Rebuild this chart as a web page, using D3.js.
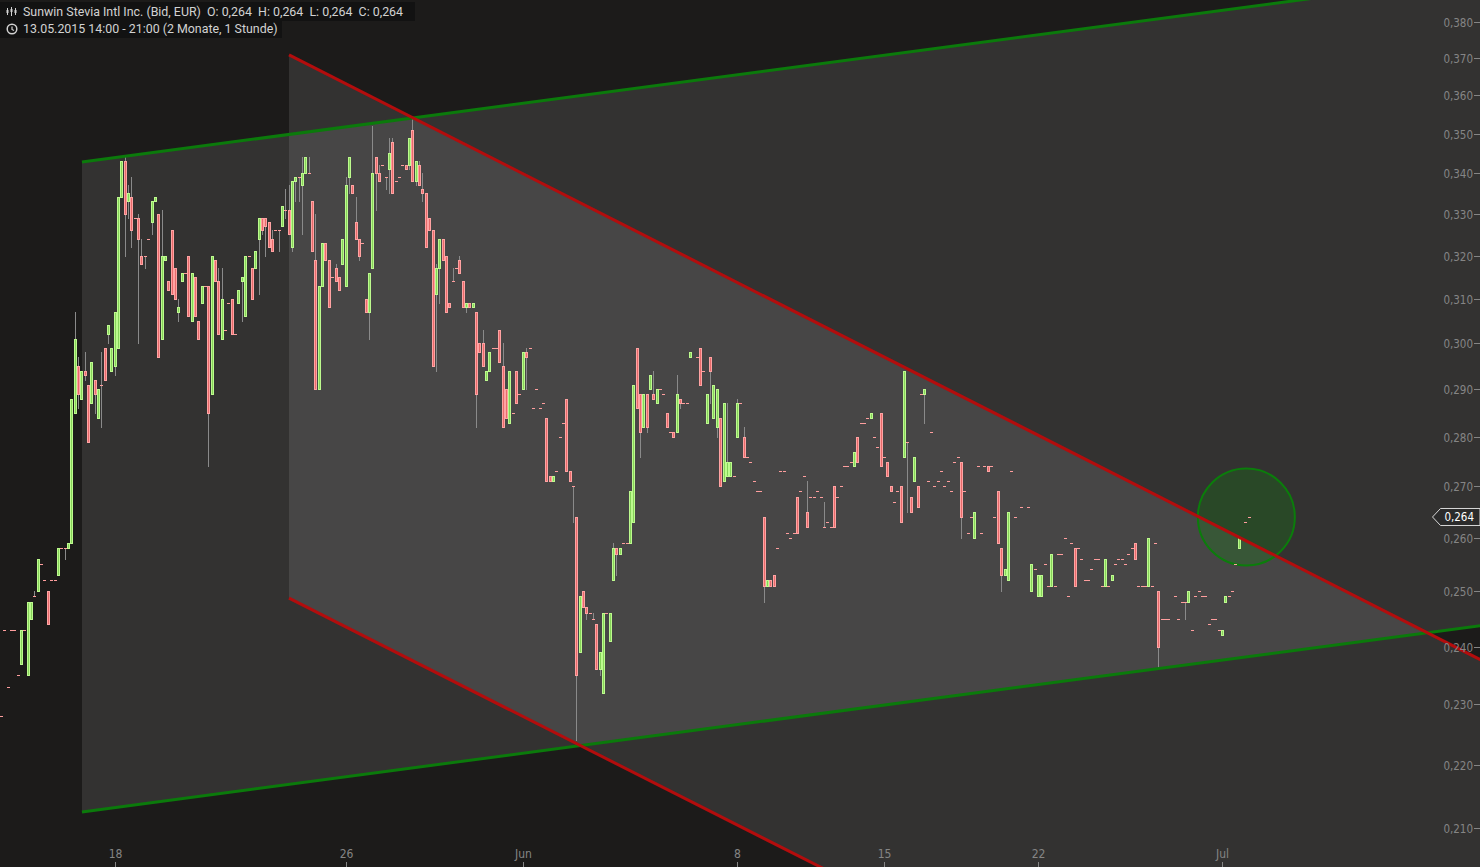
<!DOCTYPE html>
<html><head><meta charset="utf-8">
<script src="https://cdn.jsdelivr.net/npm/d3@7"></script>
<style>html,body{margin:0;padding:0;background:#1c1b1a;overflow:hidden}</style>
</head><body><svg id="c" width="1480" height="867"></svg>
<script>
// ---------------- data ----------------
const titleText = "Sunwin Stevia Intl Inc. (Bid, EUR)";
const ohlcText = "O: 0,264  H: 0,264  L: 0,264  C: 0,264";
const periodText = "13.05.2015 14:00 - 21:00 (2 Monate, 1 Stunde)";
const xTickSlots = [34, 103, 156, 220, 264, 310, 365];
const xTickLabels = ["18", "26", "Jun", "8", "15", "22", "Jul"];
const yTickValues = [0.21,0.22,0.23,0.24,0.25,0.26,0.27,0.28,0.29,0.30,0.31,0.32,0.33,0.34,0.35,0.36,0.37,0.38];
const lastPrice = 0.264;
const priceUnit = 0.001; // bar values below are in 1/1000 EUR, one entry per hourly slot
const open = [
228,243,233,243,243,235,237,243,235,245, 249,250,255,252,250,252,252,253,258,258,
258,259,285,295,288,294,291,287,292,284, 291,299,302,294,295,299,334,343,333,334,
329,329,320,320,324,328,333,330,301,319, 314,326,317,307,314,316,320,305,315,305,
309,313,313,289,319,314,301,303,309,310, 302,309,314,306,320,317,317,324,329,329,
328,324,326,326,327,331,331,322,338,339, 337,340,340,333,319,290,313,323,319,315,
317,315,318,313,339,337,328,324,323,310, 307,317,344,340,342,339,341,348,338,339,
342,342,342,351,338,342,336,335,329,326, 311,317,324,320,309,314,317,319,314,308,
309,308,307,300,300,292,294,299,299,303, 295,290,283,285,294,289,290,298,299,286,
290,286,287,284,272,271,273,280,283,288, 273,270,264,239,250,247,246,245,244,236,
232,246,241,252,258,257,259,259,259,263, 299,289,282,289,290,289,287,290,289,285,
281,281,281,288,287,287,297,null,297,299, 294,283,297,284,282,284,271,272,272,272,
280,287,280,276,275,271,269,269,264,251, 252,253,258,273,273,261,260,261,268,269,
272,265,268,268,269,268,262,263,262,270, 268,270,274,274,275,274,280,283,283,284,
284,280,278,285,276,275,270,267,269,270, 276,279,268,271,270,289,289,271,281,270,
271,273,270,271,269,275,276,275,269,261, 264,260,274,261,274,274,274,264,269,258,
253,252,273,264,null,266,null,266,250,254, 249,249,255,251,251,251,257,257,260,249,
259,258,258,256,252,252,254,256,256,251, 251,251,252,255,256,256,255,257,258,259,
251,251,251,251,251,259,250,245,245,245, null,249,245,248,248,248,243,249,250,249,
249,244,245,245,243,242,248,249,250,255, 258,null,263,264];
const close = [
228,243,233,243,243,235,243,243,248,248, 249,256,255,252,244,252,252,258,258,258,
259,288,301,289,294,293,279,296,289,290, 291,292,304,299,307,334,343,330,335,326,
329,324,318,320,324,333,334,297,320,320, 312,311,310,308,316,316,306,316,306,301,
313,313,285,320,314,302,310,303,309,302, 302,312,315,320,320,310,321,329,326,327,
322,321,326,326,332,331,325,338,339,339, 340,344,340,321,290,313,323,319,308,315,
314,312,324,337,344,335,324,320,323,307, 316,340,340,338,342,339,345,335,338,339,
342,341,349,338,343,337,335,322,326,295, 317,324,319,307,308,314,317,316,308,309,
308,309,289,298,295,294,298,299,299,296, 282,284,294,285,287,289,298,297,299,286,
290,286,287,271,271,272,273,280,283,273, 271,270,235,249,247,246,246,245,236,239,
246,246,246,258,257,258,259,259,269,291, 286,281,289,282,293,288,290,290,289,282,
281,280,289,287,287,287,298,null,297,291, 294,289,294,291,290,270,287,275,275,272,
287,287,276,276,275,271,269,269,251,252, 251,251,258,273,273,261,260,261,261,269,
272,262,268,268,269,268,262,263,262,262, 268,270,274,274,275,277,275,283,283,284,
285,280,278,274,276,272,269,267,269,263, 294,279,265,276,266,289,290,271,281,270,
271,273,270,271,269,275,276,264,269,261, 264,265,274,261,274,273,274,264,259,253,
254,265,273,264,null,266,null,266,255,254, 253,253,255,251,257,251,257,257,260,249,
259,251,258,256,252,252,254,256,256,251, 256,251,253,255,256,256,255,257,258,256,
251,251,251,260,251,259,240,245,245,245, null,249,245,248,248,250,243,249,250,249,
249,244,245,245,243,243,249,249,250,255, 260,null,263,264];
const high = [
228,243,233,243,243,235,243,243,248,248, 250,256,255,252,250,252,252,258,258,258,
259,288,307,297,294,298,291,296,292,290, 298,299,304,299,307,334,343,344,337,339,
329,330,324,320,324,333,334,330,331,320, 314,326,317,310,316,316,320,316,315,305,
313,313,313,320,319,317,317,303,309,310, 302,312,315,320,320,317,321,329,329,329,
328,326,326,326,332,336,337,338,339,339, 344,344,344,333,330,313,323,323,319,315,
318,315,324,339,344,337,334,324,323,310, 316,352,344,342,342,339,349,349,338,339,
342,342,349,354,343,343,340,335,329,326, 318,324,324,320,309,317,317,320,314,309,
309,309,307,300,303,294,298,299,299,303, 300,290,294,285,294,289,298,299,299,286,
290,286,287,284,272,272,273,280,283,288, 273,270,264,249,250,247,246,246,244,239,
246,246,246,259,258,258,259,259,269,291, 299,289,289,289,293,294,290,290,289,285,
281,281,293,288,287,287,298,null,297,299, 294,289,297,291,290,284,287,287,275,272,
288,287,282,276,275,271,269,269,264,252, 252,253,258,273,273,261,260,261,268,269,
272,271,268,268,269,268,267,263,262,270, 268,270,274,274,275,277,280,283,283,284,
285,280,278,285,276,275,270,267,269,270, 294,279,268,276,270,289,290,271,281,270,
271,273,270,271,269,275,276,275,269,261, 264,265,274,261,274,274,274,264,269,258,
254,265,273,264,null,266,null,266,255,254, 253,253,255,251,257,251,257,257,260,249,
259,258,258,256,252,252,254,256,256,251, 256,251,253,255,256,256,255,257,258,259,
251,251,251,260,251,259,250,245,245,245, null,249,245,248,248,250,243,249,250,249,
249,244,245,245,243,243,249,249,250,255, 260,null,263,264];
const low = [
228,243,233,243,243,235,237,243,235,245, 249,250,255,252,244,252,252,253,258,256,
258,259,285,286,288,292,279,287,285,284, 282,292,300,294,293,299,334,320,329,322,
329,300,318,317,324,325,333,297,301,319, 312,311,310,305,314,316,306,305,306,301,
309,313,274,289,314,302,301,303,309,302, 302,309,305,306,320,310,317,311,325,320,
322,321,326,321,327,329,325,321,333,333, 325,340,340,321,290,290,313,319,308,315,
314,312,318,313,335,335,324,319,323,307, 301,317,331,338,342,336,335,335,338,339,
342,341,341,338,337,337,333,322,326,295, 294,309,319,307,308,314,317,316,308,307,
308,308,282,298,295,292,294,299,299,296, 282,284,283,285,287,289,290,290,299,286,
290,286,287,271,271,271,273,280,283,273, 271,263,224,239,247,245,246,245,236,235,
232,246,241,252,253,257,259,259,259,263, 286,276,282,281,290,288,287,290,289,282,
281,280,281,286,287,287,297,null,297,291, 294,283,287,284,280,270,271,272,272,272,
280,287,276,276,275,271,269,269,248,251, 251,251,258,273,273,261,260,261,261,269,
272,262,268,268,269,268,262,263,262,262, 268,270,274,274,275,274,275,283,283,284,
284,280,278,274,276,272,269,267,269,263, 276,265,265,271,266,289,283,271,281,270,
271,273,270,271,269,275,276,260,269,261, 264,260,274,261,274,273,274,264,259,250,
253,252,273,264,null,266,null,266,250,254, 249,249,255,251,251,251,257,257,260,249,
259,251,258,256,252,252,254,256,256,251, 251,251,252,255,256,256,255,257,258,256,
251,251,251,251,251,259,236,245,245,245, null,249,245,248,245,248,243,249,250,249,
249,244,245,245,243,242,248,249,250,255, 258,null,263,264];
// trend channel anchors: [slot, price]
const greenUpper = [[24.2, 0.3428], [388.3, 0.3862]];
const greenLower = [[24.2, 0.2125], [442.2, 0.2437]];
const redUpper   = [[86.1, 0.3709], [442.2, 0.2377]];
const redLower   = [[86.1, 0.2487], [244.8, 0.2041]];
const marker = [372.3, 0.264];

// ---------------- drawing ----------------
const W = 1480, H = 867;
const svg = d3.select("#c");
const x = d3.scaleLinear().domain([0, 373]).range([1, 1 + 3.345 * 373]);
const y = d3.scaleLog().domain([0.21, 0.38]).range([828, 22]);

svg.append("rect").attr("width", W).attr("height", H).attr("fill", "#1c1b1a");
svg.append("clipPath").attr("id", "clip").append("rect").attr("width", W).attr("height", H);
const plot = svg.append("g").attr("clip-path", "url(#clip)");

function px(pt) { return [x(pt[0]), y(pt[1])]; }
function extend(line, xEnd) {
  const a = px(line[0]), b = px(line[1]);
  const k = (b[1] - a[1]) / (b[0] - a[0]);
  return [a, [xEnd, a[1] + k * (xEnd - a[0])]];
}
const XE = 1520;
const gU = extend(greenUpper, XE), gL = extend(greenLower, XE);
const rU = extend(redUpper, XE), rL = extend(redLower, XE);

const fillPoly = (u, l) => [u[0], u[1], l[1], l[0]];
plot.selectAll("polygon.ch").data([fillPoly(gU, gL), fillPoly(rU, rL)]).join("polygon")
  .attr("class", "ch")
  .attr("points", d => d.map(p => p.join(",")).join(" "))
  .attr("fill", "#ffffff").attr("fill-opacity", 0.1);

// marker circle
plot.append("circle").attr("cx", x(marker[0])).attr("cy", y(marker[1])).attr("r", 48.5)
  .attr("fill", "#0a8a0a").attr("fill-opacity", 0.25)
  .attr("stroke", "#0b7d0b").attr("stroke-width", 2);

// candles
const bars = open.map((o, i) => ({i, o, h: high[i], l: low[i], c: close[i]})).filter(d => d.o != null);
const cg = plot.append("g");
bars.forEach(d => {
  const o = d.o * priceUnit, c = d.c * priceUnit, h = d.h * priceUnit, l = d.l * priceUnit;
  const cx = Math.round(x(d.i));
  const top = Math.max(o, c), bot = Math.min(o, c);
  if (h > top || l < bot) {
    cg.append("line").attr("x1", cx + 0.5).attr("x2", cx + 0.5)
      .attr("y1", Math.round(y(h))).attr("y2", Math.round(y(l)) + 1)
      .attr("stroke", "#8a8a8a").attr("stroke-width", 1);
  }
  if (o === c) {
    cg.append("rect").attr("x", cx - 1).attr("y", Math.round(y(o))).attr("width", 3).attr("height", 1)
      .attr("fill", "#ff9e9e");
  } else {
    const up = c > o;
    const y0 = Math.round(y(top)), y1 = Math.round(y(bot));
    const hgt = Math.max(2, y1 - y0 + 1);
    cg.append("rect").attr("x", cx - 1).attr("y", y0).attr("width", 3).attr("height", hgt)
      .attr("fill", up ? "#bdfa8e" : "#ffa3a3");
    if (hgt > 2) {
      cg.append("rect").attr("x", cx).attr("y", y0 + 1).attr("width", 1).attr("height", hgt - 2)
        .attr("fill", up ? "#86d35a" : "#e86b6b");
    }
  }
});

// channel lines
const lines = [[gU, "#0b7a0b"], [gL, "#0b7a0b"], [rU, "#b30d0d"], [rL, "#b30d0d"]];
plot.selectAll("line.tl").data(lines).join("line").attr("class", "tl")
  .attr("x1", d => d[0][0][0]).attr("y1", d => d[0][0][1])
  .attr("x2", d => d[0][1][0]).attr("y2", d => d[0][1][1])
  .attr("stroke", d => d[1]).attr("stroke-width", 3);

// y axis (right)
const fmt = v => d3.format(".3f")(v).replace(".", ",");
const ya = svg.append("g");
yTickValues.forEach(v => {
  const yy = Math.round(y(v)) + 0.5;
  ya.append("line").attr("x1", 1474).attr("x2", 1480).attr("y1", yy).attr("y2", yy)
    .attr("stroke", "#858585").attr("stroke-width", 1);
  ya.append("text").attr("x", 1473).attr("y", yy).attr("dy", "0.35em").attr("text-anchor", "end")
    .attr("font-family", "'DejaVu Sans Condensed','DejaVu Sans',sans-serif").attr("font-stretch", "condensed")
    .attr("font-size", 11.5).attr("fill", "#858585").text(fmt(v));
});
// last price tag
const ly = y(lastPrice);
ya.append("polygon")
  .attr("points", [[1432.5, ly], [1440.5, ly - 8.5], [1480, ly - 8.5], [1480, ly + 8.5], [1440.5, ly + 8.5]].map(p => p.join(",")).join(" "))
  .attr("fill", "#2b2b2b").attr("stroke", "#d8d8d8").attr("stroke-width", 1);
ya.append("text").attr("x", 1474).attr("y", ly).attr("dy", "0.36em").attr("text-anchor", "end")
  .attr("font-family", "'DejaVu Sans Condensed','DejaVu Sans',sans-serif").attr("font-stretch", "condensed")
  .attr("font-size", 11.5).attr("fill", "#ffffff").text(fmt(lastPrice));

// x axis
const xa = svg.append("g");
xTickSlots.forEach((s, k) => {
  const xx = Math.round(x(s)) + 0.5;
  xa.append("line").attr("x1", xx).attr("x2", xx).attr("y1", 862).attr("y2", 867)
    .attr("stroke", "#858585").attr("stroke-width", 1);
  xa.append("text").attr("x", xx).attr("y", 858).attr("text-anchor", "middle")
    .attr("font-family", "'DejaVu Sans Condensed','DejaVu Sans',sans-serif").attr("font-stretch", "condensed")
    .attr("font-size", 12).attr("fill", "#858585").text(xTickLabels[k]);
});

// header
const hd = svg.append("g").attr("font-family", "Roboto, 'Open Sans', sans-serif").attr("font-size", 12.4).attr("fill", "#d2d2d2");
hd.append("rect").attr("x", 0).attr("y", 2).attr("width", 415).attr("height", 19).attr("fill", "#121212");
hd.append("rect").attr("x", 0).attr("y", 21).attr("width", 282).attr("height", 17).attr("fill", "#121212");
// bar icon
const ic = hd.append("g").attr("stroke", "#d2d2d2").attr("stroke-width", 1);
[[7.5, 8, 15, 10, 13], [11.5, 7, 16, 9, 12], [15.5, 8, 15, 10, 13]].forEach(a => {
  ic.append("line").attr("x1", a[0]).attr("x2", a[0]).attr("y1", a[1]).attr("y2", a[2]);
  ic.append("rect").attr("x", a[0] - 1).attr("y", a[3]).attr("width", 2).attr("height", a[4] - a[3]).attr("fill", "#d2d2d2").attr("stroke", "none");
});
hd.append("text").attr("x", 23).attr("y", 16).attr("xml:space", "preserve").text(titleText + "  " + ohlcText);
// clock icon
hd.append("circle").attr("cx", 12).attr("cy", 29).attr("r", 4.8).attr("fill", "none").attr("stroke", "#d2d2d2").attr("stroke-width", 1.5);
hd.append("path").attr("d", "M12,26.5 L12,29.5 L14,30.5").attr("fill", "none").attr("stroke", "#d2d2d2").attr("stroke-width", 1.2);
hd.append("text").attr("x", 23).attr("y", 33).text(periodText);
</script></body></html>
